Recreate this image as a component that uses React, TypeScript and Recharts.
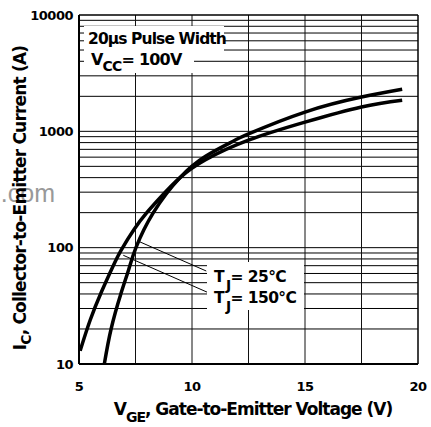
import { LineChart, Line, XAxis, YAxis, ReferenceLine } from 'recharts';

// V_GE (V) and I_C (A)
const vge25 = [6.12, 6.42, 6.85, 7.2, 7.52, 8.29, 9.47, 10.6, 11.7, 12.5, 15, 17.5, 19.3];
const ic25 = [10, 20, 40, 65, 100, 200, 400, 610, 800, 950, 1465, 1970, 2300];

const vge150 = [5.05, 5.5, 6.0, 6.5, 6.86, 7.45, 8.0, 8.6, 9.47, 10.6, 12.5, 15, 17.5, 19.3];
const ic150 = [13, 24, 42, 69, 95, 145, 200, 270, 400, 570, 840, 1200, 1620, 1850];

const xTicks = [5, 10, 15, 20];
const xGrid = [7.5, 10, 12.5, 15, 17.5];
const yTicks = [10, 100, 1000, 10000];
const yGrid = [20, 30, 40, 50, 60, 70, 80, 90, 100, 200, 300, 400, 500, 600, 700, 800, 900, 1000, 2000, 3000, 4000, 5000, 6000, 7000, 8000, 9000];

const data25 = vge25.map((x, i) => ({ x, y: ic25[i] }));
const data150 = vge150.map((x, i) => ({ x, y: ic150[i] }));

const FONT = '"DejaVu Sans", sans-serif';

const XTick = (props: any) => (
  <text x={props.x} y={386} textAnchor="middle" dominantBaseline="central"
    fontFamily={FONT} fontWeight="bold" fontSize={13} letterSpacing={-0.5} fill="#000">
    {props.payload.value}
  </text>
);

const YTick = (props: any) => (
  <text x={73} y={props.y} textAnchor="end" dominantBaseline="central"
    fontFamily={FONT} fontWeight="bold" fontSize={13} letterSpacing={-0.5} fill="#000">
    {props.payload.value}
  </text>
);

export default function App() {
  return (
    <div style={{ position: 'absolute', left: 0, top: 0, width: 431, height: 427, background: '#fff' }}>
      <LineChart width={431} height={427} data={data25} margin={{ top: 15, right: 13, bottom: 0, left: 0 }}>
        <XAxis dataKey="x" type="number" domain={[5, 20]} ticks={xTicks} height={63}
          allowDataOverflow tick={XTick} tickLine={false} axisLine={{ stroke: '#000', strokeWidth: 2 }} />
        <YAxis type="number" scale="log" domain={[10, 10000]} ticks={yTicks} width={79}
          allowDataOverflow tick={YTick} tickLine={false} axisLine={{ stroke: '#000', strokeWidth: 2 }} />
        {yGrid.map((v) => (
          <ReferenceLine key={'h' + v} y={v} stroke="#000" strokeWidth={1} />
        ))}
        {xGrid.map((v) => (
          <ReferenceLine key={'v' + v} x={v} stroke="#111" strokeWidth={1} />
        ))}
        <ReferenceLine y={10000} stroke="#000" strokeWidth={1.5} />
        <ReferenceLine x={20} stroke="#000" strokeWidth={1.5} />
        <ReferenceLine segment={[{ x: 7.7, y: 112 }, { x: 10.63, y: 63 }]} stroke="#000" strokeWidth={1} />
        <ReferenceLine segment={[{ x: 6.96, y: 86 }, { x: 10.8, y: 40.4 }]} stroke="#000" strokeWidth={1} />
        <Line data={data25} dataKey="y" type="natural" stroke="#000" strokeWidth={3.5} dot={false} isAnimationActive={false} />
        <Line data={data150} dataKey="y" type="natural" stroke="#000" strokeWidth={3.5} dot={false} isAnimationActive={false} />
      </LineChart>

      <svg width={431} height={427} style={{ position: 'absolute', left: 0, top: 0, pointerEvents: 'none' }}
        fontFamily={FONT} fontWeight="bold" fill="#000">
        <text x={55} y={202} textAnchor="end" fontFamily='"Liberation Sans", sans-serif' fontWeight="normal" fontSize={25} fill="#999">.com</text>

        <text transform="rotate(-90)" x={-198} y={26} textAnchor="middle" fontSize={17} letterSpacing={-0.8}>
          <tspan>I</tspan>
          <tspan dy={5} fontSize={14}>C</tspan>
          <tspan dy={-5}>, Collector-to-Emitter Current (A)</tspan>
        </text>

        <text x={253} y={415} textAnchor="middle" fontSize={17} letterSpacing={-1}>
          <tspan>V</tspan>
          <tspan dy={7} fontSize={14}>GE</tspan>
          <tspan dy={-7}>, Gate-to-Emitter Voltage (V)</tspan>
        </text>

        <rect x={84} y={26} width={140} height={25} fill="#fff" />
        <text x={88} y={44} fontSize={15.5} letterSpacing={-0.9}>20µs Pulse Width</text>
        <rect x={84} y={51} width={110} height={22} fill="#fff" />
        <text x={91} y={65} fontSize={16} letterSpacing={-0.8}>
          <tspan>V</tspan>
          <tspan dy={6} fontSize={14}>CC</tspan>
          <tspan dy={-6}>= 100V</tspan>
        </text>

        <rect x={207} y={262} width={97} height={48} fill="#fff" />
        <text x={214} y={282} fontSize={15.5} letterSpacing={-0.6}>
          <tspan>T</tspan>
          <tspan dy={8} fontSize={14} dx={2}>J</tspan>
          <tspan dy={-8}>= 25°C</tspan>
        </text>
        <text x={214} y={303} fontSize={15.5} letterSpacing={-0.6}>
          <tspan>T</tspan>
          <tspan dy={8} fontSize={14} dx={2}>J</tspan>
          <tspan dy={-8}>= 150°C</tspan>
        </text>
      </svg>
    </div>
  );
}
